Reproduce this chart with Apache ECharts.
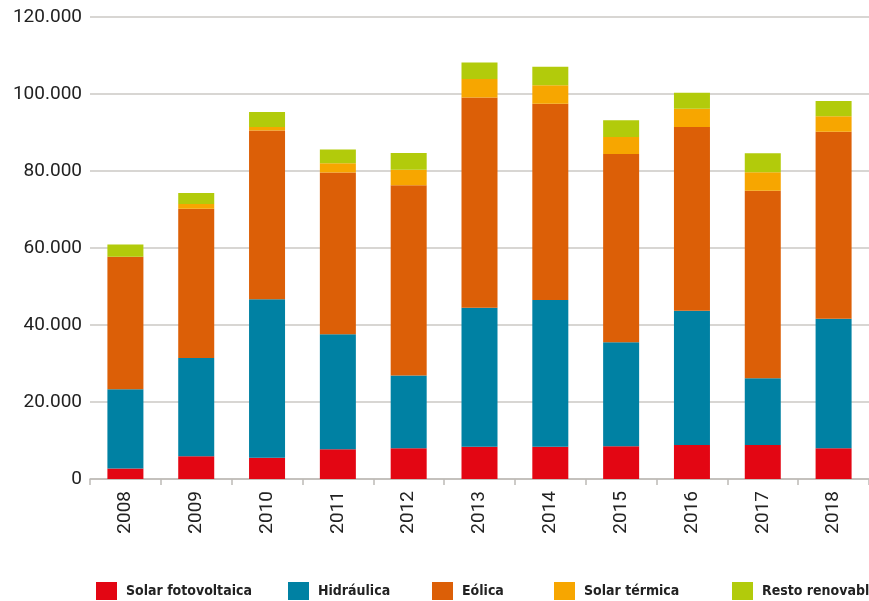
<!DOCTYPE html>
<html>
<head>
<meta charset="utf-8">
<script src="https://cdn.jsdelivr.net/npm/echarts@6/dist/echarts.min.js"></script>
<style>
  html, body { margin: 0; padding: 0; background: #fff; }
  #chart { width: 869px; height: 601px; }
</style>
</head>
<body>
<div id="chart"></div>
<script>
var years = ['2008','2009','2010','2011','2012','2013','2014','2015','2016','2017','2018'];
var fotovoltaica = [2700, 5900, 5500, 7700, 8000, 8400, 8400, 8500, 8800, 8800, 8000];
var hidraulica = [20600, 25500, 41200, 29900, 18900, 36100, 38100, 27000, 34900, 17400, 33600];
var eolica = [34400, 38800, 43800, 42000, 49400, 54600, 51000, 48900, 47700, 48700, 48600];
var termica = [0, 1200, 900, 2400, 4000, 4800, 4800, 4400, 4800, 4800, 4000];
var resto = [3200, 2900, 3900, 3600, 4400, 4300, 4800, 4400, 4100, 4900, 4000];

var names = ['Solar fotovoltaica', 'Hidráulica', 'Eólica', 'Solar térmica', 'Resto renovables'];
var colors = ['#e30613', '#0081a3', '#dc5f07', '#f7a600', '#b2cb0b'];
var legendLefts = [91, 283, 427, 549, 727];

var init = function() {
  var chart = echarts.init(document.getElementById('chart'));
  var values = [fotovoltaica, hidraulica, eolica, termica, resto];

  var series = [];
  var legends = [];
  for (var i = 0; i < names.length; i++) {
    series.push({
      name: names[i],
      type: 'bar',
      stack: 'total',
      barWidth: 36,
      itemStyle: { color: colors[i] },
      data: values[i]
    });
    // one legend per item so each sits where it does in the source
    legends.push({
      data: [names[i]],
      left: legendLefts[i],
      top: 577,
      icon: 'rect',
      itemWidth: 21,
      itemHeight: 18,
      textStyle: {
        fontFamily: '"DejaVu Sans Condensed", "DejaVu Sans"',
        fontWeight: 'bold',
        fontSize: 14,
        color: '#222',
        padding: [0, 0, 0, 4]
      }
    });
  }

  var option = {
    animation: false,
    color: colors,
    grid: { left: 90, right: -7, top: 17, bottom: 122 },
    legend: legends,
    xAxis: {
      type: 'category',
      data: years,
      axisLine: { lineStyle: { color: '#bdbab7', width: 1.5 } },
      axisTick: { show: true, length: 6, lineStyle: { color: '#bdbab7', width: 1.5 } },
      axisLabel: {
        rotate: 90,
        margin: 12,
        fontFamily: 'Roboto',
        fontSize: 19,
        color: '#222'
      }
    },
    yAxis: {
      type: 'value',
      min: 0,
      max: 120000,
      interval: 20000,
      axisLine: { show: false },
      axisTick: { show: false },
      splitLine: { lineStyle: { color: '#cbc8c5', width: 1.5 } },
      axisLabel: {
        margin: 8,
        fontFamily: 'Roboto',
        fontSize: 19,
        color: '#222',
        formatter: function(v) {
          return v === 0 ? '0' : (v / 1000) + '.000';
        }
      }
    },
    series: series
  };
  chart.setOption(option);
};
init();
</script>
</body>
</html>
